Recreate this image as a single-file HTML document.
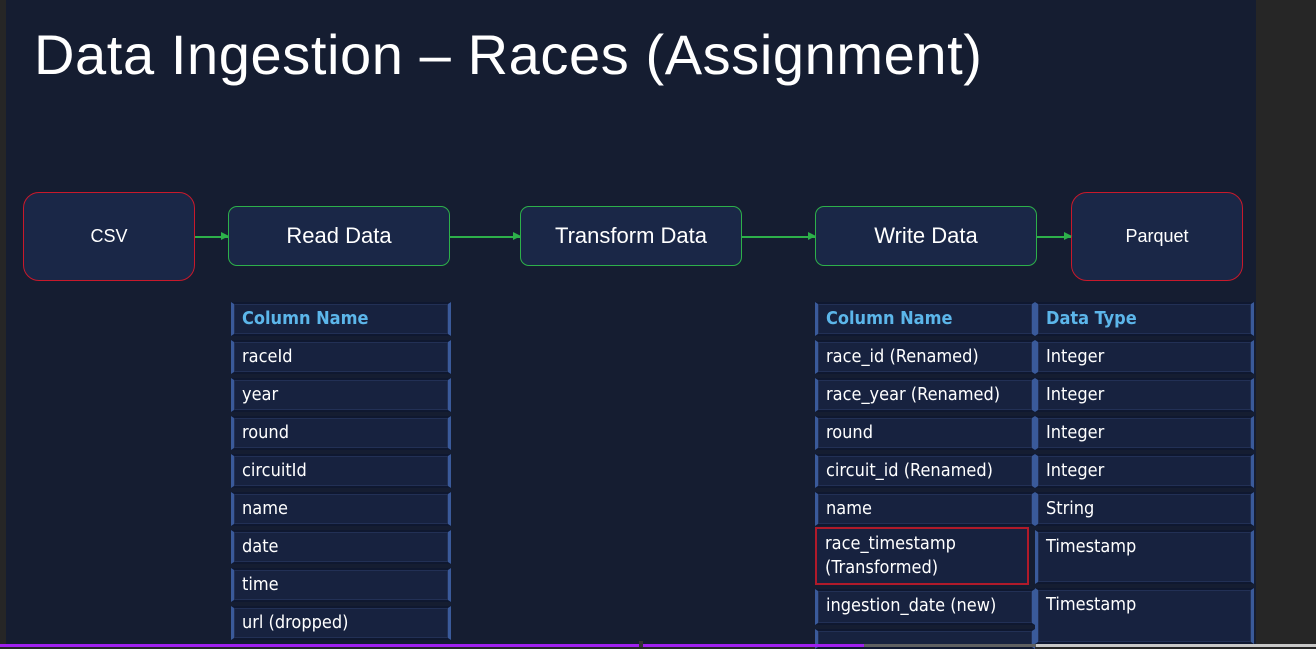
<!DOCTYPE html>
<html><head><style>
body{margin:0;width:1316px;height:647px;overflow:hidden;background:#262626;font-family:"Liberation Sans",sans-serif;position:relative}
.slide{position:absolute;left:6px;top:0;width:1250px;height:644px;background:#151d31}
h1{position:absolute;left:34px;top:22px;margin:0;font-weight:normal;font-size:56px;color:#fff;letter-spacing:0.6px}
.box{position:absolute;box-sizing:border-box;background:#1a2747;color:#fff;display:flex;align-items:center;justify-content:center;border-radius:12px}
.red{border:1.5px solid #c8192b;font-size:18px;border-radius:16px}
.green{border:1.5px solid #2db04a;font-size:22px;border-radius:9px}
.arr{position:absolute;height:1.5px;background:#2db04a}
.arr:after{content:"";position:absolute;right:-1px;top:-4px;border-left:8px solid #2db04a;border-top:4.5px solid transparent;border-bottom:4.5px solid transparent}
.c{position:absolute;box-sizing:border-box;background:#17223f;border:2px solid #0f1830;border-left:3px solid #3a5a9a;border-right:3px solid #3a5a9a;box-shadow:inset 0 0 0 1px #223055;color:#fff;font-size:18px;padding:3px 0 0 8px;font-family:"DejaVu Sans Condensed","Liberation Sans",sans-serif;line-height:24px}
.h{color:#5cb6ea;font-weight:bold}
</style></head><body>
<div class="slide"></div>
<h1>Data Ingestion – Races (Assignment)</h1>
<div class="box red" style="left:23px;top:192px;width:172px;height:89px">CSV</div>
<div class="box green" style="left:228px;top:206px;width:222px;height:60px">Read Data</div>
<div class="box green" style="left:520px;top:206px;width:222px;height:60px">Transform Data</div>
<div class="box green" style="left:815px;top:206px;width:222px;height:60px">Write Data</div>
<div class="box red" style="left:1071px;top:192px;width:172px;height:89px">Parquet</div>
<div class="arr" style="left:195px;top:236px;width:33px"></div>
<div class="arr" style="left:450px;top:236px;width:70px"></div>
<div class="arr" style="left:742px;top:236px;width:73px"></div>
<div class="arr" style="left:1037px;top:236px;width:34px"></div>

<div class="c h" style="left:231px;top:302px;width:220px;height:34px">Column Name</div>
<div class="c" style="left:231px;top:340px;width:220px;height:34px">raceId</div>
<div class="c" style="left:231px;top:378px;width:220px;height:34px">year</div>
<div class="c" style="left:231px;top:416px;width:220px;height:34px">round</div>
<div class="c" style="left:231px;top:454px;width:220px;height:34px">circuitId</div>
<div class="c" style="left:231px;top:492px;width:220px;height:34px">name</div>
<div class="c" style="left:231px;top:530px;width:220px;height:34px">date</div>
<div class="c" style="left:231px;top:568px;width:220px;height:34px">time</div>
<div class="c" style="left:231px;top:606px;width:220px;height:34px">url (dropped)</div>

<div class="c h" style="left:815px;top:302px;width:220px;height:34px">Column Name</div>
<div class="c" style="left:815px;top:340px;width:220px;height:34px">race_id (Renamed)</div>
<div class="c" style="left:815px;top:378px;width:220px;height:34px">race_year (Renamed)</div>
<div class="c" style="left:815px;top:416px;width:220px;height:34px">round</div>
<div class="c" style="left:815px;top:454px;width:220px;height:34px">circuit_id (Renamed)</div>
<div class="c" style="left:815px;top:492px;width:220px;height:34px">name</div>
<div class="c" style="left:815px;top:527px;width:214px;height:58px;border:2px solid #b01a2a;box-shadow:none">race_timestamp<br>(Transformed)</div>
<div class="c" style="left:815px;top:589px;width:220px;height:36px">ingestion_date (new)</div>
<div class="c" style="left:815px;top:629px;width:220px;height:20px"></div>

<div class="c h" style="left:1035px;top:302px;width:219px;height:34px">Data Type</div>
<div class="c" style="left:1035px;top:340px;width:219px;height:34px">Integer</div>
<div class="c" style="left:1035px;top:378px;width:219px;height:34px">Integer</div>
<div class="c" style="left:1035px;top:416px;width:219px;height:34px">Integer</div>
<div class="c" style="left:1035px;top:454px;width:219px;height:34px">Integer</div>
<div class="c" style="left:1035px;top:492px;width:219px;height:34px">String</div>
<div class="c" style="left:1035px;top:530px;width:219px;height:54px">Timestamp</div>
<div class="c" style="left:1035px;top:588px;width:219px;height:56px">Timestamp</div>

<div style="position:absolute;left:0;top:644px;width:864px;height:3px;background:#a020f0"></div>
<div style="position:absolute;left:864px;top:644px;width:172px;height:3px;background:#5f6061"></div>
<div style="position:absolute;left:1036px;top:644px;width:280px;height:3px;background:#c8c8c8"></div>
<div style="position:absolute;left:639px;top:641px;width:4px;height:6px;background:#333"></div>
</body></html>
